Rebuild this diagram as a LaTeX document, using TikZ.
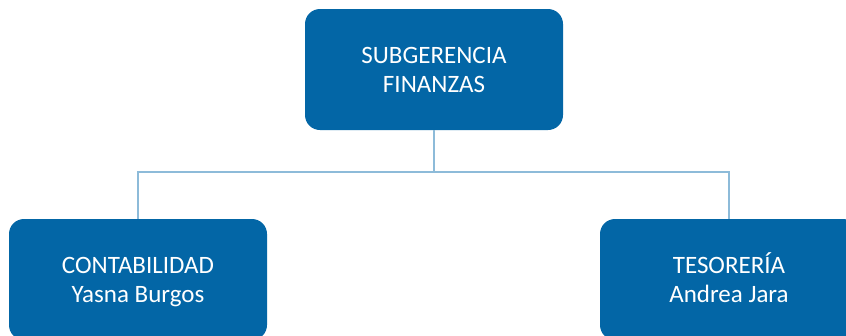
\documentclass[tikz,border=0pt]{standalone}
\usepackage{fontspec}
\setmainfont{Carlito}
\usepackage{tikz}
\usetikzlibrary{positioning}
\definecolor{cajaazul}{HTML}{0366A6}
\definecolor{lineaazul}{HTML}{8DBBD9}
\tikzset{font=\fontsize{25}{29}\selectfont}
\tikzstyle{unidad}=[rectangle,rounded corners=15pt,fill=cajaazul,text=white,align=center,minimum width=258pt,minimum height=121pt,inner sep=0pt]
\tikzstyle{enlace}=[draw=lineaazul,line width=2.5pt]
% two lines with the same height and depth in every box
\newcommand{\dosrenglones}[2]{\rule{0pt}{25pt}#1\\#2\rule[-9pt]{0pt}{9pt}}

\begin{document}
\begin{tikzpicture}[x=1pt,y=-1pt]
\useasboundingbox (0,0) rectangle (846,335);
\node[unidad] (SF) at (434,69.5) {\dosrenglones{SUBGERENCIA}{FINANZAS}};
\node[unidad] (CO) at (138,279.5) {\dosrenglones{CONTABILIDAD}{Yasna Burgos}};
\node[unidad] (TE) at (729,279.5) {\dosrenglones{TESORERÍA}{Andrea Jara}};
\coordinate (bus) at (434,172);
\path[enlace]
(SF.south) -- (bus)
(bus) -| (CO.north)
(bus) -| (TE.north);
\end{tikzpicture}
\end{document}
